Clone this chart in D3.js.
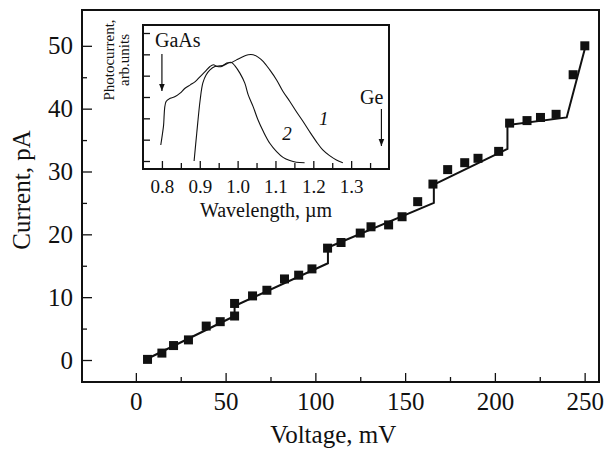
<!DOCTYPE html>
<html>
<head>
<meta charset="utf-8">
<script src="https://cdn.jsdelivr.net/npm/d3@7"></script>
<style>
  body { margin: 0; background: #fff; }
  text { font-family: "Liberation Serif", "Times New Roman", serif; fill: #111; }
</style>
</head>
<body>
<div id="chart"></div>
<script>
// measured points (squares)
const voltage = [6.5, 14.5, 21, 29.3, 39.2, 47, 55, 55, 65, 73, 82.8, 90.7, 98.1, 106.8, 114.3, 125, 131, 140.8, 148.3, 157,
                 165.5, 173.7, 183.2, 190.6, 202.1, 208.2, 217.9, 225.4, 234.1, 243.6, 250.1];
const current = [0.1, 1.1, 2.3, 3.2, 5.4, 6.1, 7.0, 9.0, 10.2, 11.1, 12.9, 13.5, 14.5, 17.8, 18.7, 20.2, 21.2, 21.5, 22.8, 25.2,
                 28.0, 30.3, 31.4, 32.1, 33.2, 37.7, 38.1, 38.6, 39.1, 45.4, 50.0];

// stepped fit line
const fitV = [5, 55, 55, 107, 107, 166, 166, 207, 207, 240, 251];
const fitI = [0, 7.0, 8.6, 15.4, 17.9, 25.0, 27.9, 33.6, 37.4, 38.6, 50.5];

const xTicks = [0, 50, 100, 150, 200, 250];
const yTicks = [0, 10, 20, 30, 40, 50];

// inset spectra
const wl1 = [0.797, 0.804, 0.811, 0.822, 0.835, 0.848, 0.861, 0.875, 0.888, 0.901, 0.914, 0.927, 0.936, 0.946, 0.958, 0.971,
             0.984, 0.997, 1.015, 1.028, 1.041, 1.054, 1.068, 1.085, 1.103, 1.120, 1.138, 1.155, 1.173, 1.190, 1.208, 1.225,
             1.243, 1.261, 1.278];
const pc1 = [0.75, 1.61, 2.79, 2.94, 3.02, 3.18, 3.41, 3.57, 3.72, 3.96, 4.19, 4.43, 4.51, 4.43, 4.43, 4.59,
             4.62, 4.74, 4.90, 4.98, 4.98, 4.87, 4.66, 4.27, 3.80, 3.26, 2.79, 2.32, 1.85, 1.38, 0.91, 0.52,
             0.25, 0.05, -0.08];
const wl2 = [0.885, 0.892, 0.901, 0.908, 0.917, 0.927, 0.940, 0.954, 0.967, 0.978, 0.984, 0.993, 1.006, 1.019, 1.028, 1.041,
             1.054, 1.068, 1.085, 1.103, 1.120, 1.138, 1.155, 1.177];
const pc2 = [0, 1.30, 2.86, 3.65, 4.04, 4.27, 4.43, 4.46, 4.51, 4.62, 4.62, 4.46, 4.12, 3.65, 3.10, 2.55,
             1.92, 1.38, 0.83, 0.44, 0.17, 0.02, -0.06, -0.08];
const insetTicks = [0.8, 0.9, 1.0, 1.1, 1.2, 1.3];

//setting up the margins
const svgWidth = 605;
const svgHeight = 450;
const margin = {top: 10, right: 6, bottom: 68, left: 82};
const width = svgWidth - margin.left - margin.right;
const height = svgHeight - margin.top - margin.bottom;

const svg = d3.select("#chart").append("svg")
    .attr("width", svgWidth)
    .attr("height", svgHeight);

const chartGroup = svg.append("g")
    .attr("transform", `translate(${margin.left}, ${margin.top})`);

const x = d3.scaleLinear().domain([-30, 258]).range([0, width]);
const y = d3.scaleLinear().domain([-3.5, 55.7]).range([height, 0]);

// inward ticks, major + minor
function styleAxis(g) {
    g.select(".domain").remove();
    g.selectAll(".tick line").attr("stroke", "#111").attr("stroke-width", 1.3);
}

chartGroup.append("g")
    .attr("transform", `translate(0, ${height})`)
    .call(d3.axisBottom(x).tickValues(d3.range(25, 251, 50)).tickSize(-5).tickFormat(""))
    .call(styleAxis);
chartGroup.append("g")
    .attr("transform", `translate(0, ${height})`)
    .call(d3.axisBottom(x).tickValues(xTicks).tickSize(-9).tickFormat(d3.format("d")))
    .call(styleAxis)
    .selectAll("text").attr("font-size", 25).attr("dy", "0.71em").attr("y", 10);

chartGroup.append("g")
    .call(d3.axisLeft(y).tickValues(d3.range(5, 51, 10)).tickSize(-5).tickFormat(""))
    .call(styleAxis);
chartGroup.append("g")
    .call(d3.axisLeft(y).tickValues(yTicks).tickSize(-10).tickFormat(d3.format("d")))
    .call(styleAxis)
    .selectAll("text").attr("font-size", 25).attr("x", -9);

// frame
chartGroup.append("rect")
    .attr("width", width).attr("height", height)
    .attr("fill", "none").attr("stroke", "#111").attr("stroke-width", 2);

// fit line
const fitData = fitV.map((v, i) => ({v: v, c: fitI[i]}));
chartGroup.append("path")
    .datum(fitData)
    .attr("fill", "none")
    .attr("stroke", "#111")
    .attr("stroke-width", 2)
    .attr("d", d3.line().x(d => x(d.v)).y(d => y(d.c)));

// squares
const pts = voltage.map((v, i) => ({v: v, c: current[i]}));
const sq = 9;
chartGroup.selectAll(".pt")
    .data(pts)
    .enter()
    .append("rect")
    .attr("class", "pt")
    .attr("x", d => x(d.v) - sq / 2)
    .attr("y", d => y(d.c) - sq / 2)
    .attr("width", sq)
    .attr("height", sq)
    .attr("fill", "#111");

// axis labels
svg.append("text")
    .attr("x", margin.left + x(110))
    .attr("y", 443)
    .attr("text-anchor", "middle")
    .attr("font-size", 25)
    .text("Voltage, mV");

svg.append("text")
    .attr("transform", "translate(30, 190) rotate(-90)")
    .attr("text-anchor", "middle")
    .attr("font-size", 25)
    .text("Current, pA");

// ---- inset ----
const inset = {left: 143, top: 25, right: 389, bottom: 169};
const insetGroup = svg.append("g");
const ix = d3.scaleLinear().domain([0.75, 1.40]).range([inset.left, inset.right]);
const iy = d3.scaleLinear().domain([-0.375, 6.375]).range([inset.bottom, inset.top]);

insetGroup.append("rect")
    .attr("x", inset.left).attr("y", inset.top)
    .attr("width", inset.right - inset.left).attr("height", inset.bottom - inset.top)
    .attr("fill", "#fff");

insetGroup.append("g")
    .attr("transform", `translate(0, ${inset.bottom})`)
    .call(d3.axisBottom(ix).tickValues(d3.range(0.85, 1.36, 0.1)).tickSize(-6).tickFormat(""))
    .call(styleAxis);
insetGroup.append("g")
    .attr("transform", `translate(0, ${inset.bottom})`)
    .call(d3.axisBottom(ix).tickValues(insetTicks).tickSize(-8).tickFormat(d3.format(".1f")))
    .call(styleAxis)
    .selectAll("text").attr("font-size", 19).attr("dy", "0.71em").attr("y", 11);

insetGroup.append("g")
    .attr("transform", `translate(${inset.left}, 0)`)
    .call(d3.axisLeft(iy).tickValues(d3.range(0, 7)).tickSize(-7).tickFormat(""))
    .call(styleAxis);

insetGroup.append("rect")
    .attr("x", inset.left).attr("y", inset.top)
    .attr("width", inset.right - inset.left).attr("height", inset.bottom - inset.top)
    .attr("fill", "none").attr("stroke", "#111").attr("stroke-width", 2);

const spec = d3.line().curve(d3.curveCatmullRom).x(d => ix(d.w)).y(d => iy(d.p));
[[wl1, pc1], [wl2, pc2]].forEach(s => {
    insetGroup.append("path")
        .datum(s[0].map((w, i) => ({w: w, p: s[1][i]})))
        .attr("fill", "none")
        .attr("stroke", "#111")
        .attr("stroke-width", 1.1)
        .attr("d", spec);
});

// curve numbers
insetGroup.append("text").attr("x", ix(1.215)).attr("y", iy(1.7))
    .attr("font-size", 19).attr("font-style", "italic").text("1");
insetGroup.append("text").attr("x", ix(1.118)).attr("y", iy(1.0))
    .attr("font-size", 19).attr("font-style", "italic").text("2");

// GaAs / Ge markers
insetGroup.append("text").attr("x", 155).attr("y", 47).attr("font-size", 20).text("GaAs");
insetGroup.append("text").attr("x", 360).attr("y", 104).attr("font-size", 20).text("Ge");

svg.append("defs").append("marker")
    .attr("id", "arr")
    .attr("viewBox", "0 0 10 10")
    .attr("refX", 10).attr("refY", 5)
    .attr("markerWidth", 7).attr("markerHeight", 7)
    .attr("markerUnits", "userSpaceOnUse")
    .attr("orient", "auto")
    .append("path").attr("d", "M0,1 L10,5 L0,9 Z").attr("fill", "#111");

insetGroup.append("line")
    .attr("x1", ix(0.8)).attr("x2", ix(0.8)).attr("y1", 54).attr("y2", 91)
    .attr("stroke", "#111").attr("stroke-width", 1.2).attr("marker-end", "url(#arr)");
insetGroup.append("line")
    .attr("x1", ix(1.38)).attr("x2", ix(1.38)).attr("y1", 109).attr("y2", 146)
    .attr("stroke", "#111").attr("stroke-width", 1.2).attr("marker-end", "url(#arr)");

insetGroup.append("text")
    .attr("x", (inset.left + inset.right) / 2)
    .attr("y", 217)
    .attr("text-anchor", "middle")
    .attr("font-size", 20)
    .text("Wavelength, \u00b5m");

insetGroup.append("text")
    .attr("transform", "translate(114, 60) rotate(-90)")
    .attr("text-anchor", "middle")
    .attr("font-size", 15)
    .text("Photocurrent,");
insetGroup.append("text")
    .attr("transform", "translate(129, 60) rotate(-90)")
    .attr("text-anchor", "middle")
    .attr("font-size", 15)
    .text("arb.units");
</script>
</body>
</html>
